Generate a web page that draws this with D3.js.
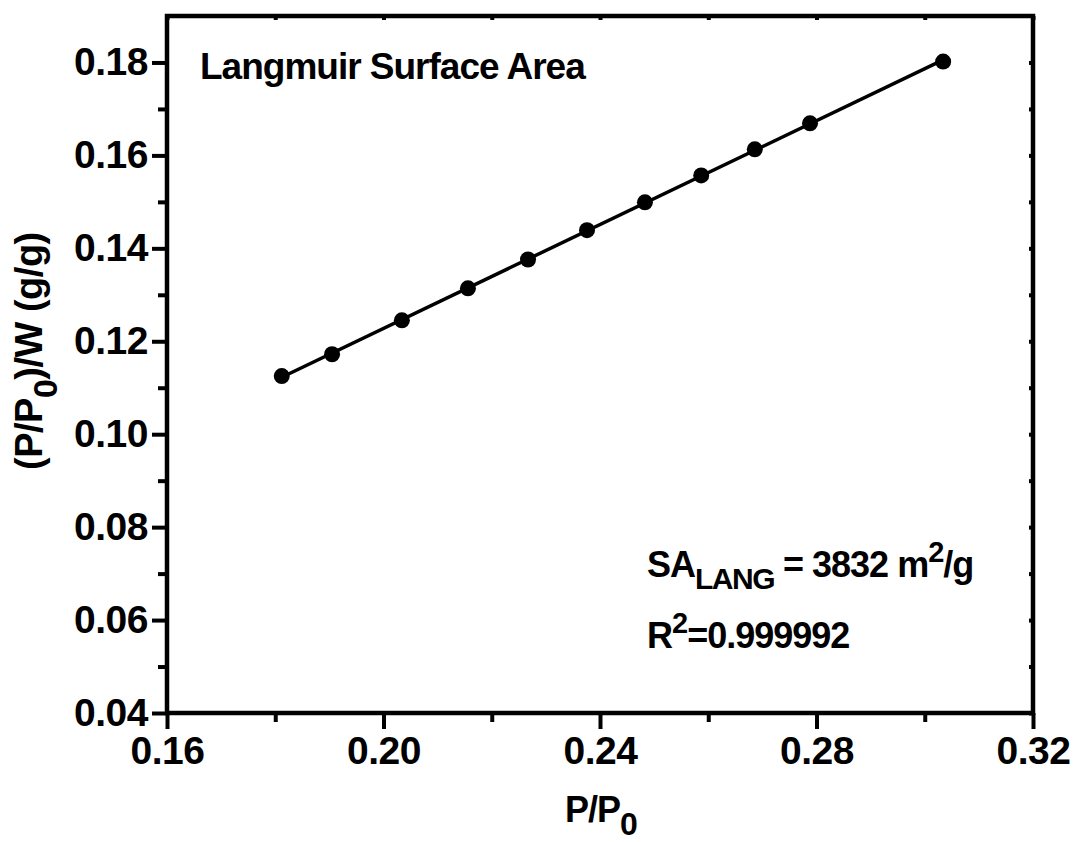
<!DOCTYPE html>
<html>
<head>
<meta charset="utf-8">
<script src="https://cdn.jsdelivr.net/npm/d3@7"></script>
<style>
  html, body { margin: 0; padding: 0; background: #fff; }
  svg { display: block; }
  text { font-family: "Liberation Sans", Arial, sans-serif; font-weight: bold; fill: #000; }
</style>
</head>
<body>
<svg id="chart" width="1075" height="842"></svg>
<script>
// Langmuir plot data: relative pressure vs (P/P0)/W
const relPressure = [0.1812, 0.1905, 0.2034, 0.2156, 0.2267, 0.2376, 0.2483, 0.2587, 0.2686, 0.2788, 0.3034];
const langmuirY   = [0.1125, 0.1172, 0.1245, 0.1314, 0.1376, 0.1439, 0.1499, 0.1557, 0.1613, 0.1669, 0.1802];
const xMajorTicks = [0.16, 0.20, 0.24, 0.28, 0.32];
const xMinorTicks = [0.18, 0.22, 0.26, 0.30];
const yMajorTicks = [0.04, 0.06, 0.08, 0.10, 0.12, 0.14, 0.16, 0.18];
const yMinorTicks = [0.05, 0.07, 0.09, 0.11, 0.13, 0.15, 0.17];
const xDomain = [0.16, 0.32];
const yDomain = [0.04, 0.19];

const svg = d3.select("#chart");
const plot = { left: 167, right: 1033, top: 16, bottom: 713 };

const x = d3.scaleLinear().domain(xDomain).range([plot.left, plot.right]);
const y = d3.scaleLinear().domain(yDomain).range([plot.bottom, plot.top]);

const fmt = d3.format(".2f");

// Bottom axis: major and minor ticks
svg.append("g").attr("transform", `translate(0,${plot.bottom})`)
  .call(d3.axisBottom(x).tickValues(xMajorTicks).tickFormat(fmt).tickSize(16).tickPadding(7).tickSizeOuter(0));
svg.append("g").attr("transform", `translate(0,${plot.bottom})`)
  .call(d3.axisBottom(x).tickValues(xMinorTicks).tickFormat("").tickSize(9).tickSizeOuter(0));

// Left axis: major and minor ticks
svg.append("g").attr("transform", `translate(${plot.left},0)`)
  .call(d3.axisLeft(y).tickValues(yMajorTicks).tickFormat(fmt).tickSize(15).tickPadding(4).tickSizeOuter(0));
svg.append("g").attr("transform", `translate(${plot.left},0)`)
  .call(d3.axisLeft(y).tickValues(yMinorTicks).tickFormat("").tickSize(9).tickSizeOuter(0));

// Small inward ticks on top and right frame edges
svg.append("g").attr("transform", `translate(0,${plot.top})`)
  .call(d3.axisTop(x).tickValues(xMajorTicks.concat(xMinorTicks)).tickFormat("").tickSize(-4).tickSizeOuter(0));
svg.append("g").attr("transform", `translate(${plot.right},0)`)
  .call(d3.axisRight(y).tickValues(yMajorTicks.concat(yMinorTicks)).tickFormat("").tickSize(-4).tickSizeOuter(0));

svg.selectAll(".domain").remove();
svg.selectAll(".tick line").attr("stroke", "#000").attr("stroke-width", 4);
svg.selectAll(".tick text")
  .style("font-size", "39px")
  .style("letter-spacing", "-0.5px");

// Frame
svg.append("rect")
  .attr("x", plot.left).attr("y", plot.top)
  .attr("width", plot.right - plot.left).attr("height", plot.bottom - plot.top)
  .attr("fill", "none").attr("stroke", "#000").attr("stroke-width", 4.5);

// Least-squares fit line
const n = relPressure.length;
const mx = d3.mean(relPressure), my = d3.mean(langmuirY);
let sxy = 0, sxx = 0;
for (let i = 0; i < n; i++) {
  sxy += (relPressure[i] - mx) * (langmuirY[i] - my);
  sxx += (relPressure[i] - mx) ** 2;
}
const slope = sxy / sxx, intercept = my - slope * mx;
const xEnds = d3.extent(relPressure);
svg.append("line")
  .attr("x1", x(xEnds[0])).attr("y1", y(slope * xEnds[0] + intercept))
  .attr("x2", x(xEnds[1])).attr("y2", y(slope * xEnds[1] + intercept))
  .attr("stroke", "#000").attr("stroke-width", 3.5);

// Data points
svg.append("g").selectAll("circle")
  .data(relPressure.map((v, i) => [v, langmuirY[i]]))
  .join("circle")
  .attr("cx", d => x(d[0])).attr("cy", d => y(d[1]))
  .attr("r", 8).attr("fill", "#000");

// Title inside plot
svg.append("text")
  .attr("x", 200).attr("y", 79)
  .style("font-size", "37px").style("letter-spacing", "-1px")
  .text("Langmuir Surface Area");

// Annotation: surface area
const sa = svg.append("text").attr("x", 647).attr("y", 577)
  .style("font-size", "36px").style("letter-spacing", "-1px");
sa.append("tspan").text("SA");
sa.append("tspan").attr("dy", 12).style("font-size", "30px").style("letter-spacing", "-1.5px").text("LANG");
sa.append("tspan").attr("dy", -12).text(" = 3832 m");
sa.append("tspan").attr("dy", -15).style("font-size", "29px").text("2");
sa.append("tspan").attr("dy", 15).text("/g");

// Annotation: R squared
const r2 = svg.append("text").attr("x", 647).attr("y", 648)
  .style("font-size", "36px").style("letter-spacing", "-1px");
r2.append("tspan").text("R");
r2.append("tspan").attr("dy", -15).style("font-size", "29px").text("2");
r2.append("tspan").attr("dy", 15).text("=0.999992");

// X axis title
const xt = svg.append("text").attr("x", 565).attr("y", 822)
  .style("font-size", "36px").style("letter-spacing", "-1px");
xt.append("tspan").text("P/P");
xt.append("tspan").attr("dy", 13).style("font-size", "32px").text("0");

// Y axis title (rotated)
const yt = svg.append("text")
  .attr("transform", "translate(42,470) rotate(-90)")
  .style("font-size", "38px").style("letter-spacing", "-0.5px");
yt.append("tspan").text("(P/P");
yt.append("tspan").attr("dy", 15).style("font-size", "34px").text("0");
yt.append("tspan").attr("dy", -15).text(")/W (g/g)");
</script>
</body>
</html>
